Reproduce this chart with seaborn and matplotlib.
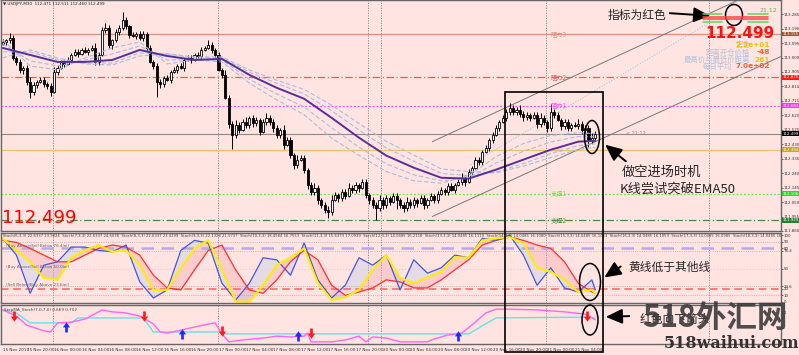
import numpy as np
import matplotlib
matplotlib.use("Agg")
import matplotlib.pyplot as plt
import matplotlib.transforms as mtransforms
from matplotlib.patches import Ellipse, Rectangle, FancyArrowPatch
from matplotlib.lines import Line2D
from matplotlib.path import Path
import seaborn as sns

# ---------------- USDJPY M30 candles ----------------
first_open = 113.090
closes = [
    113.102, 113.115, 113.128, 112.997, 112.971, 112.919, 112.932, 112.840, 112.774, 112.820,
    112.840, 112.853, 112.827, 112.814, 112.774, 112.906, 112.932, 112.971, 112.958, 112.984,
    113.017, 113.037, 113.024, 113.050, 113.037, 113.050, 113.063, 112.971, 113.017, 113.181,
    113.194, 113.083, 113.115, 113.168, 113.194, 113.246, 113.207, 113.148, 113.142, 113.155,
    113.128, 113.155, 113.063, 112.971, 112.945, 112.840, 112.827, 112.866, 112.853, 112.906,
    112.919, 112.945, 112.932, 112.984, 112.997, 112.984, 113.017, 113.010, 113.050, 113.063,
    113.083, 113.050, 113.017, 112.919, 112.886, 112.735, 112.565, 112.492, 112.558, 112.525,
    112.578, 112.558, 112.604, 112.571, 112.591, 112.512, 112.578, 112.604, 112.578, 112.538,
    112.492, 112.525, 112.427, 112.460, 112.361, 112.296, 112.329, 112.342, 112.263, 112.165,
    112.119, 112.145, 112.066, 112.033, 112.001, 111.988, 112.066, 112.099, 112.079, 112.119,
    112.092, 112.145, 112.132, 112.165, 112.145, 112.184, 112.099, 112.066, 112.033, 112.014,
    112.066, 112.033, 112.079, 112.053, 112.092, 112.066, 112.033, 112.014, 112.053, 112.033,
    112.066, 112.047, 112.079, 112.033, 112.066, 112.092, 112.066, 112.106, 112.132, 112.119,
    112.158, 112.132, 112.165, 112.184, 112.210, 112.184, 112.250, 112.276, 112.329, 112.315,
    112.381, 112.407, 112.460, 112.492, 112.538, 112.578, 112.604, 112.643, 112.669, 112.643,
    112.656, 112.630, 112.610, 112.624, 112.604, 112.624, 112.565, 112.604, 112.578, 112.538,
    112.643, 112.624, 112.591, 112.551, 112.578, 112.538, 112.558, 112.551, 112.565, 112.525,
    112.538, 112.460, 112.473, 112.499,
]
up_pips = [
    2, 1, 3, 2, 1, 2, 1, 2, 3, 2,  1, 2, 2, 1, 2, 3, 2, 1, 2, 2,
    1, 2, 2, 1, 2, 1, 2, 3, 2, 2,  3, 2, 1, 2, 2, 5, 2, 1, 2, 1,
    2, 2, 1, 2, 1, 2, 2, 1, 2, 1,  2, 1, 2, 1, 2, 2, 1, 2, 2, 1,
    3, 2, 1, 2, 1, 3, 2, 2, 3, 2,  2, 3, 1, 2, 2, 1, 2, 3, 2, 2,
    2, 1, 3, 2, 2, 1, 3, 2, 2, 1,  2, 3, 2, 1, 2, 2, 3, 2, 1, 2,
    2, 3, 2, 2, 1, 2, 2, 1, 2, 2,  3, 2, 2, 1, 2, 2, 1, 2, 3, 2,
    2, 1, 2, 2, 1, 2, 1, 2, 2, 1,  2, 2, 1, 2, 3, 2, 2, 1, 2, 2,
    1, 2, 1, 2, 2, 1, 2, 2, 3, 2,  2, 3, 2, 2, 1, 2, 2, 3, 2, 1,
    5, 2, 2, 1, 2, 2, 1, 2, 3, 2,  2, 2, 3, 2,
]
dn_pips = [
    1, 2, 2, 1, 2, 2, 3, 2, 4, 2,  2, 1, 2, 2, 3, 1, 2, 1, 2, 1,
    2, 1, 2, 1, 1, 2, 1, 2, 2, 1,  2, 2, 3, 1, 2, 1, 2, 2, 1, 2,
    1, 2, 2, 1, 2, 10, 3, 2, 1, 2, 1, 2, 1, 2, 1, 2, 1, 1, 2, 1,
    1, 2, 2, 1, 2, 1, 3, 9, 2, 2,  1, 2, 2, 3, 2, 2, 1, 2, 2, 3,
    2, 2, 3, 1, 2, 3, 2, 1, 2, 3,  2, 2, 3, 2, 2, 4, 2, 1, 3, 2,
    2, 1, 2, 2, 3, 1, 2, 3, 2, 8,  2, 3, 2, 2, 1, 6, 2, 3, 2, 2,
    2, 3, 1, 3, 2, 1, 2, 2, 1, 2,  2, 1, 2, 1, 2, 3, 1, 2, 1, 2,
    2, 1, 2, 2, 1, 2, 1, 2, 2, 2,  2, 2, 3, 2, 2, 1, 3, 2, 2, 3,
    2, 2, 1, 3, 2, 2, 2, 1, 2, 3,  2, 5, 2, 2,
]

# moving averages, read every 8 bars
ma_idx = [0, 8, 16, 24, 32, 40, 48, 56, 64, 72, 80, 88, 96, 104, 112, 120, 128, 136, 144, 152, 160, 168, 173]
ema50 = [113.063, 113.017, 112.971, 112.971, 112.984, 113.050, 113.010, 112.984, 112.991, 112.886, 112.801, 112.729,
         112.604, 112.473, 112.355, 112.276, 112.210, 112.204, 112.263, 112.329, 112.394, 112.447, 112.453]
fast1 = [113.115, 112.945, 112.919, 112.997, 113.063, 113.102, 112.958, 112.984, 112.971, 112.832, 112.721, 112.624,
         112.470, 112.357, 112.250, 112.190, 112.174, 112.224, 112.348, 112.435, 112.488, 112.506, 112.500]
fast2 = [113.089, 112.978, 112.945, 112.984, 113.024, 113.076, 112.984, 112.984, 112.984, 112.857, 112.761, 112.675,
         112.539, 112.411, 112.301, 112.229, 112.189, 112.210, 112.306, 112.384, 112.445, 112.481, 112.478]
slow1 = [113.037, 113.037, 112.984, 112.964, 112.964, 113.030, 113.024, 112.997, 112.997, 112.904, 112.830, 112.761,
         112.651, 112.524, 112.406, 112.319, 112.239, 112.224, 112.246, 112.303, 112.369, 112.421, 112.432]
slow2 = [112.997, 113.050, 112.997, 112.958, 112.951, 113.010, 113.024, 113.004, 113.004, 112.918, 112.851, 112.790,
         112.687, 112.567, 112.449, 112.359, 112.268, 112.250, 112.242, 112.286, 112.343, 112.396, 112.411]

# support / resistance
level_names = ["阻力3", "阻力2", "阻力1", "中轴", "支撑1", "支撑2"]
level_vals = [113.155, 112.870, 112.684, 112.394, 112.106, 111.929]
last_price = 112.499

# channel lines (bar index, price)
chan_up_x, chan_up_y = [125.4, 227.0], [112.447, 113.505]
chan_lo_x, chan_lo_y = [125.4, 227.0], [111.955, 113.005]
dot_x, dot_y = [136.5, 206.5], [112.296, 113.233]

# stochastic fan, read every 4 bars
stoch_idx = list(range(0, 173, 4)) + [173]
stoch_fast = [95, 70, 13, 55, 60, 82, 82, 77, 75, 85, 30, 6, 18, 77, 92, 88, 28, 3, 28, 66,
              63, 40, 88, 33, 6, 25, 66, 55, 70, 18, 63, 43, 51, 70, 66, 95, 92, 100, 70, 25,
              51, 21, 15, 33, 18]
stoch_yellow = [95, 77, 60, 36, 33, 66, 77, 85, 75, 77, 55, 18, 18, 51, 80, 92, 48, 1, 0, 25,
                55, 66, 80, 28, 3, 7, 18, 48, 70, 36, 28, 37, 45, 67, 66, 92, 95, 97, 88, 51,
                45, 33, 15, 18, 13]
stoch_slow = [92, 89, 80, 70, 60, 60, 70, 80, 85, 82, 70, 40, 21, 18, 48, 77, 85, 48, 18, 13,
              33, 60, 77, 63, 25, 10, 15, 21, 33, 30, 21, 21, 33, 48, 63, 85, 92, 97, 92, 85,
              80, 60, 28, 15, 13]

# StepMA stoch
step_idx = [0, 4, 7, 12, 14, 16, 20, 24, 28, 29, 32, 36, 40, 44, 46, 48, 52, 56, 60, 62, 64, 66, 70, 76, 80,
            84, 88, 89, 90, 96, 100, 104, 106, 108, 112, 116, 124, 126, 130, 134, 138, 141, 144, 148, 156,
            164, 170, 173]
step_main = [0.87, 0.71, 0.47, 0.32, 0.29, 0.53, 0.55, 0.63, 0.82, 0.87, 0.82, 0.79, 0.71, 0.50, 0.29, 0.26,
             0.34, 0.42, 0.50, 0.53, 0.24, 0.03, 0.08, 0.13, 0.18, 0.16, 0.18, 0.26, 0.03, 0.03, 0.08, 0.18,
             0.03, 0.16, 0.13, 0.03, 0.03, 0.11, 0.21, 0.26, 0.55, 0.79, 0.89, 0.89, 0.87, 0.82, 0.76, 0.61]
sig_idx = [0, 4, 8, 20, 22, 41, 44, 63, 65, 136, 140, 144, 170, 173]
step_sig = [0.87, 0.79, 0.53, 0.53, 0.66, 0.66, 0.29, 0.29, 0.24, 0.24, 0.45, 0.66, 0.68, 0.66]
sell_idx, sell_val = [3.3, 41.2, 63.9, 89.9, 170.6], [0.68, 0.68, 0.29, 0.24, 0.68]
buy_idx, buy_val = [18.5, 52.3, 86.1, 133.0], [0.45, 0.26, 0.21, 0.21]

tick_idx = [0, 7, 15, 23, 31, 39, 47, 55, 63, 71, 79, 87, 95, 103, 111, 119, 127, 135, 143, 151, 159, 167]
tick_lbl = ["15 Nov 2017", "15 Nov 20:00", "16 Nov 00:00", "16 Nov 04:00", "16 Nov 08:00", "16 Nov 12:00",
            "16 Nov 16:00", "16 Nov 20:00", "17 Nov 00:00", "17 Nov 04:00", "17 Nov 08:00", "17 Nov 12:00",
            "17 Nov 16:00", "17 Nov 20:00", "20 Nov 00:00", "20 Nov 04:00", "20 Nov 08:00", "20 Nov 12:00",
            "20 Nov 16:00", "20 Nov 20:00", "21 Nov 00:00", "21 Nov 04:00"]
sep_idx = [14.7, 62.8, 106.5, 110.4, 158.5, 206.3]

# ---------------- figure ----------------
BG = "#ffe4e1"
W, H = 799, 355
sns.set_style("white")
plt.rcParams["font.family"] = ["DejaVu Sans", "Noto Sans CJK SC"]
plt.rcParams["axes.unicode_minus"] = False
CJK = ["Noto Sans CJK SC", "DejaVu Sans"]

fig = plt.figure(figsize=(W / 100, H / 100), dpi=100)
fig.patch.set_facecolor(BG)


def fx(px):
    return px / W


def fy(py):
    return 1 - py / H


ax1 = fig.add_axes([fx(1), fy(231), 780 / W, 231 / H])
ax2 = fig.add_axes([fx(1), fy(303), 780 / W, 70 / H])
ax3 = fig.add_axes([fx(1), fy(344), 780 / W, 39 / H])

for ax in (ax1, ax2, ax3):
    ax.set_facecolor(BG)
    ax.set_xlim(-0.5, 227.2)
    for s in ax.spines.values():
        s.set_color("#666")
        s.set_linewidth(1.0)
    ax.yaxis.tick_right()
    ax.tick_params(axis="y", labelsize=2.9, length=1.2, width=0.5, pad=0.8, colors="#333")
    for s in sep_idx:
        ax.axvline(s, color="#8a8a8a", lw=0.6, ls=(0, (1.5, 1.5)), zorder=1)
ax1.set_xticks([])
ax2.set_xticks([])

# ---- main price panel ----
ax1.set_ylim(111.863, 113.378)
price_ticks = [111.860, 111.955, 112.050, 112.145, 112.240, 112.335, 112.430, 112.525, 112.620,
               112.715, 112.810, 112.905, 113.000, 113.095, 113.190, 113.285]
ax1.set_yticks(price_ticks)
ax1.set_yticklabels([f"{v:.3f}" for v in price_ticks])

lv_colors = ["#d4937a", "#f05a5a", "#ee55ee", "#f0c070", "#77dd55", "#4a8a3a"]
lv_styles = ["-", (0, (6, 2, 1, 2)), (0, (1.5, 1.5)), "-", (0, (1.5, 1.5)), (0, (6, 2, 1, 2))]
lv_bg = ["#a0522d", "#ff1a1a", "#ff33ff", "#d4a017", "#22dd22", "#2e7d32"]
blend = mtransforms.blended_transform_factory(ax1.transAxes, ax1.transData)
for name, v, c, ls, bg in zip(level_names, level_vals, lv_colors, lv_styles, lv_bg):
    ax1.axhline(v, color=c, lw=0.9, ls=ls, zorder=1)
    ax1.text(160, v, name, fontsize=4.5, color=c, va="center", family=CJK)
    ax1.text(1.0015, v, f"{v:.3f}", transform=blend, fontsize=2.9, color="white", va="center",
             bbox=dict(facecolor=bg, edgecolor="none", pad=0.3), clip_on=False)
ax1.axhline(last_price, color="#8a8a8a", lw=0.8, zorder=1)
ax1.text(1.0015, last_price, f"{last_price:.3f}", transform=blend, fontsize=2.9, color="white",
         va="center", bbox=dict(facecolor="black", edgecolor="none", pad=0.3), clip_on=False)
ax1.text(182, last_price, "< 21:12", fontsize=3.5, color="#888", va="center")

# channel
ax1.plot(chan_up_x, chan_up_y, color="#777", lw=0.7, zorder=2)
ax1.plot(chan_lo_x, chan_lo_y, color="#777", lw=0.7, zorder=2)
ax1.plot(dot_x, dot_y, color="#a8c8e8", lw=0.8, ls=(0, (1, 1.5)), zorder=2)

# candles
closes_a = np.array(closes)
opens_a = np.r_[first_open, closes_a[:-1]]
idx = np.arange(len(closes_a))
highs = np.maximum(opens_a, closes_a) + np.array(up_pips) * 0.01
lows = np.minimum(opens_a, closes_a) - np.array(dn_pips) * 0.01
ax1.vlines(idx, lows, highs, color="black", lw=0.7, zorder=2)
bull = closes_a >= opens_a
ax1.bar(idx[bull], np.maximum(closes_a[bull] - opens_a[bull], 0.002), bottom=opens_a[bull], width=0.62,
        color="white", edgecolor="black", lw=0.6, zorder=3)
ax1.bar(idx[~bull], opens_a[~bull] - closes_a[~bull], bottom=closes_a[~bull], width=0.62,
        color="black", edgecolor="black", lw=0.6, zorder=3)

# MA ribbon
for vals in (fast1, fast2, slow1, slow2):
    sns.lineplot(x=ma_idx, y=vals, ax=ax1, color="#a9bedd", lw=0.8, linestyle=(0, (4, 2)), zorder=4)
sns.lineplot(x=ma_idx, y=ema50, ax=ax1, color="#5a2d9c", lw=1.4, zorder=5)
ax1.set_xlabel("")
ax1.set_ylabel("")

# ---- stochastic panel ----
ax2.set_ylim(-1.5, 103)
st_ticks = [0, 10, 20, 23.6, 50, 76.4, 80, 90, 100]
ax2.set_yticks(st_ticks)
ax2.set_yticklabels(["0", "10", "20", "23.6", "50", "76.4", "80", "90", "100"])
ax2.axhline(90, color="#999", lw=0.5, ls=":")
ax2.axhline(80, color="#b8a8f0", lw=1.8, ls=(0, (5, 3)))
ax2.axhline(76.4, color="#8ab4f8", lw=0.6, ls=":")
ax2.axhline(50, color="#f0e060", lw=0.8, ls=":")
ax2.axhline(23.6, color="#999", lw=0.5, ls=":")
ax2.axhline(20, color="#ff6060", lw=1.1, ls=(0, (5, 3)))
ax2.axhline(10, color="#999", lw=0.5, ls=":")
ax2.fill_between(stoch_idx, stoch_fast, stoch_yellow, color="#a9c8f2", alpha=0.3, lw=0)
ax2.fill_between(stoch_idx, stoch_yellow, stoch_slow, color="#f4a0a8", alpha=0.35, lw=0)
sns.lineplot(x=stoch_idx, y=stoch_slow, ax=ax2, color="#ff3030", lw=0.9)
sns.lineplot(x=stoch_idx, y=stoch_fast, ax=ax2, color="#4457d8", lw=0.9)
sns.lineplot(x=stoch_idx, y=stoch_yellow, ax=ax2, color="#ffee00", lw=1.5)
ax2.set_xlabel("")
ax2.set_ylabel("")
hdr = "  ".join(f"Stoch({p},3,3) {a} {b}" for p, a, b in [
    (6, "22.6337", "23.9824"), (7, "22.6337", "24.6038"), (8, "22.6337", "23.4299"), (9, "22.1328", "21.5737"),
    (10, "18.4584", "16.7553"), (11, "15.6373", "17.0939"), (12, "14.0485", "16.2118"), (13, "14.0485", "16.1119"),
    (14, "14.0485", "16.1080"), (15, "14.0485", "16.1063"), (16, "14.0485", "16.1053"), (17, "14.0485", "16.0985"),
    (18, "14.0485", "16.0957"), (19, "14.0485", "16.0751"), (20, "14.0485", "16.0600")])
ax2.text(0, 98, hdr, fontsize=2.7, color="#444", va="center", clip_on=True)
ax2.text(1, 83, "(Buy Above/Sell Below 76.4ini)", fontsize=3, color="#666", va="center")
ax2.text(1, 52, "(Buy Above/Sell Below 50.0ini)", fontsize=3, color="#666", va="center")
ax2.text(1, 25, "(Sell Below/Buy Above 23.6ini)", fontsize=3, color="#666", va="center")

# ---- StepMA stoch panel ----
ax3.set_ylim(-0.026, 1.0)
ax3.set_yticks([0.8])
ax3.set_yticklabels(["1"])
sns.lineplot(x=sig_idx, y=step_sig, ax=ax3, color="#66e2e2", lw=1.0)
sns.lineplot(x=step_idx, y=step_main, ax=ax3, color="#ff66ee", lw=1.0)
down_arrow = Path([(-0.22, 1), (0.22, 1), (0.22, 0.15), (0.6, 0.15), (0, -0.7), (-0.6, 0.15),
                   (-0.22, 0.15), (-0.22, 1)], closed=True)
up_arrow = Path([(-0.22, -1), (0.22, -1), (0.22, -0.15), (0.6, -0.15), (0, 0.7), (-0.6, -0.15),
                 (-0.22, -0.15), (-0.22, -1)], closed=True)
ax3.scatter(sell_idx, sell_val, marker=down_arrow, s=75, color="#ff1a1a", lw=0, zorder=5)
ax3.scatter(buy_idx, buy_val, marker=up_arrow, s=75, color="#1a2aff", lw=0, zorder=5)
ax3.set_xlabel("")
ax3.set_ylabel("")
ax3.text(0.5, 0.88, "StepMA_Stoch(7,0,7,0) 0.669 0.702", fontsize=3, color="#444", va="center")
ax3.set_xticks(tick_idx)
ax3.set_xticklabels(tick_lbl, fontsize=3, ha="left", color="#333")
ax3.tick_params(axis="x", length=1.5, width=0.5, pad=1.5)

# ---------------- figure-level texts & marks ----------------
fig.text(fx(3), fy(4), "▼ USDJPY,M30  112.471 112.511 112.460 112.499", fontsize=3, color="#222", va="center")
fig.text(fx(2), fy(218), "112.499", color="#ff0000", fontsize=13, va="center")
fig.text(fx(740), fy(33), "112.499", color="#ff1010", fontsize=11, fontweight="bold", ha="center", va="center")

# small indicator legend at top right
for yy, c, segs in [(14, "#55dd55", [(703, 722), (748, 768)]), (16.5, "#ff4444", [(703, 768)]),
                    (19, "#ff4444", [(703, 768)]), (21.5, "#55dd55", [(703, 722), (748, 768)])]:
    for a, b in segs:
        fig.add_artist(Line2D([fx(a), fx(b)], [fy(yy), fy(yy)], color=c, lw=1.1, transform=fig.transFigure))
fig.text(fx(760), fy(10), "21.12", fontsize=4.5, color="#55bb55", va="center")

info_rows = [(45, "空仓", "2.2e+01", "#f0c000"), (52.5, "距离开仓价格", "-48", "#ff6030"),
             (59.5, "最高价与最低价距离", "261", "#f0c000"), (66.5, "每日平均", "7.0e+02", "#ff5a2a")]
for yy, lab, val, c in info_rows:
    fig.text(fx(750 if lab != "每日平均" else 732), fy(yy), lab, fontsize=5.3, color="#b4c3dc",
             ha="right", va="center", family=CJK)
    fig.text(fx(770), fy(yy), val, fontsize=5.3, color=c, ha="right", va="center", fontweight="bold")


def fig_ellipse(cx, cy, w, h):
    fig.add_artist(Ellipse((fx(cx), fy(cy)), w / W, h / H, transform=fig.transFigure,
                           fill=False, ec="black", lw=1.1))


def fig_arrow(x0, y0, x1, y1):
    fig.add_artist(FancyArrowPatch((fx(x0), fy(y0)), (fx(x1), fy(y1)), transform=fig.transFigure,
                                   arrowstyle="-|>,head_length=1.0,head_width=0.45", mutation_scale=10,
                                   lw=1.4, color="black"))


fig.add_artist(Rectangle((fx(505), fy(352)), 98 / W, 260 / H, transform=fig.transFigure,
                         fill=False, ec="black", lw=1.2))

fig.text(fx(608), fy(15), "指标为红色", fontsize=8.5, va="center", family=CJK)
fig_arrow(667, 13, 713, 16)
fig_ellipse(734, 15, 17, 21)

fig.text(fx(622), fy(172), "做空进场时机", fontsize=9.5, va="center", family=CJK)
fig.text(fx(620), fy(189), "K线尝试突破EMA50", fontsize=9.5, va="center", family=CJK)
fig_arrow(628, 163, 603, 143)
fig_ellipse(592, 137, 15, 33)

fig.text(fx(628), fy(267), "黄线低于其他线", fontsize=8.5, va="center", family=CJK)
fig_arrow(623, 265, 602, 279)
fig_ellipse(590, 282, 21, 37)

fig.text(fx(640), fy(319), "红色向下箭头", fontsize=8.5, va="center", family=CJK)
fig_arrow(632, 316, 603, 317)
fig_ellipse(590, 320, 16, 30)

# watermark
fig.text(fx(642), fy(318), "518外汇网", fontsize=22, color="#3c3c3c", fontweight="bold", va="center",
         alpha=0.9, family=CJK)
fig.text(fx(664), fy(344), "518waihui.com", fontsize=11.5, family="DejaVu Serif", fontweight="bold",
         color="#333", va="center")

fig.savefig("out.png", dpi=100, facecolor=BG)
